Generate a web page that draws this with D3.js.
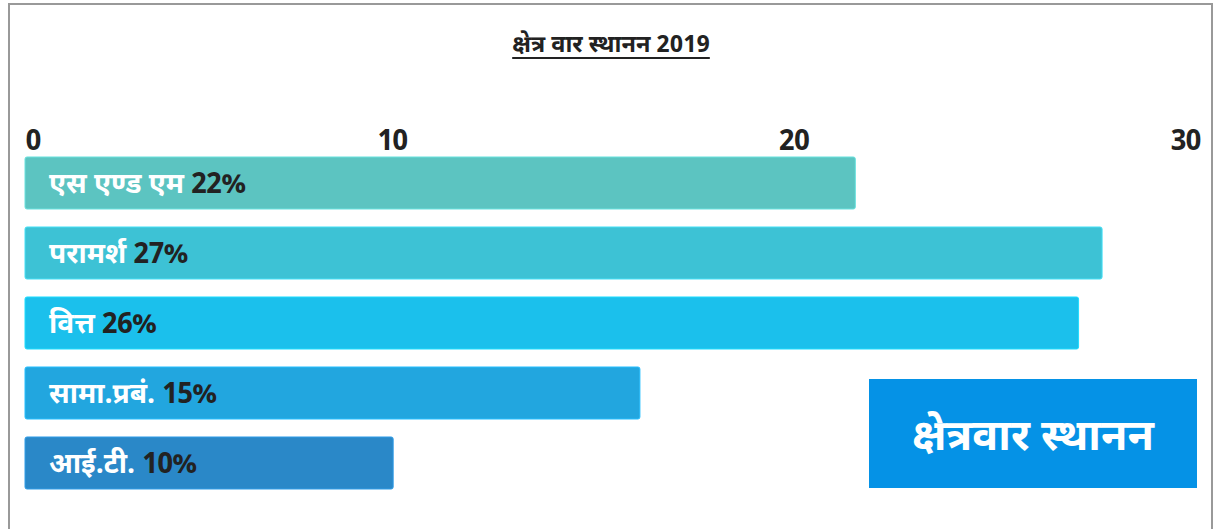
<!DOCTYPE html>
<html>
<head>
<meta charset="utf-8">
<script src="https://cdn.jsdelivr.net/npm/d3@7"></script>
<style>
  html, body { margin: 0; padding: 0; background: #fff; }
  svg { display: block; }
  text { font-family: "Noto Sans Devanagari", "Noto Sans", "Open Sans", sans-serif; }
</style>
</head>
<body>
<svg id="chart" width="1215" height="529"></svg>
<script>
const categories = ["एस एण्ड एम", "परामर्श", "वित्त", "सामा.प्रबं.", "आई.टी."];
const barValues = [21.2, 27.5, 26.9, 15.7, 9.4];
const percentLabels = ["22%", "27%", "26%", "15%", "10%"];
const barColors = ["#5cc4c1", "#3dc2d5", "#1bc0ec", "#22a6df", "#2a88c8"];
const tickValues = [0, 10, 20, 30];
const title = "क्षेत्र वार स्थानन 2019";
const boxLabel = "क्षेत्रवार स्थानन";

const svg = d3.select("#chart");

// frame
svg.append("path")
  .attr("d", "M9,535 L9,4 L1212,4 L1212,535")
  .attr("fill", "none").attr("stroke", "#999").attr("stroke-width", 2);

// title
const t = svg.append("text")
  .attr("x", 611).attr("y", 52)
  .attr("text-anchor", "middle")
  .attr("font-size", 23.5).attr("font-weight", 700)
  .attr("fill", "#222")
  .text(title);
const tb = t.node().getBBox();
svg.append("line")
  .attr("x1", tb.x).attr("x2", tb.x + tb.width)
  .attr("y1", 58).attr("y2", 58)
  .attr("stroke", "#222").attr("stroke-width", 2);

const x = d3.scaleLinear().domain([0, 30]).range([25, 1200]);
const y = d3.scaleBand().domain(categories).range([148, 498])
  .paddingInner(0.257).paddingOuter(0.1285);

// axis tick labels
const axis = d3.axisTop(x).tickValues(tickValues).tickSize(0).tickPadding(0);
const ag = svg.append("g").attr("transform", "translate(0,150)").call(axis);
ag.select(".domain").remove();
ag.selectAll("text")
  .attr("font-size", 28).attr("font-weight", 700).attr("fill", "#222")
  .attr("font-family", "'Open Sans', 'Noto Sans', sans-serif")
  .attr("letter-spacing", -1)
  .attr("dy", 0)
  .attr("text-anchor", d => d === 0 ? "start" : "end")
  .attr("dx", d => d === 10 ? -10 : 0);

// bars
const g = svg.append("g");
categories.forEach((c, i) => {
  g.append("rect")
    .attr("x", x(0)).attr("y", y(c))
    .attr("width", x(barValues[i]) - x(0))
    .attr("height", y.bandwidth())
    .attr("rx", 2)
    .attr("fill", barColors[i])
    .attr("stroke", d3.color(barColors[i]).brighter(0.4))
    .attr("stroke-width", 1);
  const lab = g.append("text")
    .attr("x", 49).attr("y", y(c) + y.bandwidth() / 2 + 10)
    .attr("font-size", 28).attr("font-weight", 700);
  lab.append("tspan").attr("fill", "#fff").text(c + " ");
  lab.append("tspan").attr("fill", "#222").attr("letter-spacing", -1).text(percentLabels[i]);
});

// box
svg.append("rect")
  .attr("x", 869).attr("y", 379).attr("width", 328).attr("height", 109)
  .attr("fill", "#0592e6");
svg.append("text")
  .attr("x", 1033).attr("y", 450)
  .attr("text-anchor", "middle")
  .attr("font-size", 43).attr("font-weight", 700)
  .attr("fill", "#fff")
  .text(boxLabel);
</script>
</body>
</html>
